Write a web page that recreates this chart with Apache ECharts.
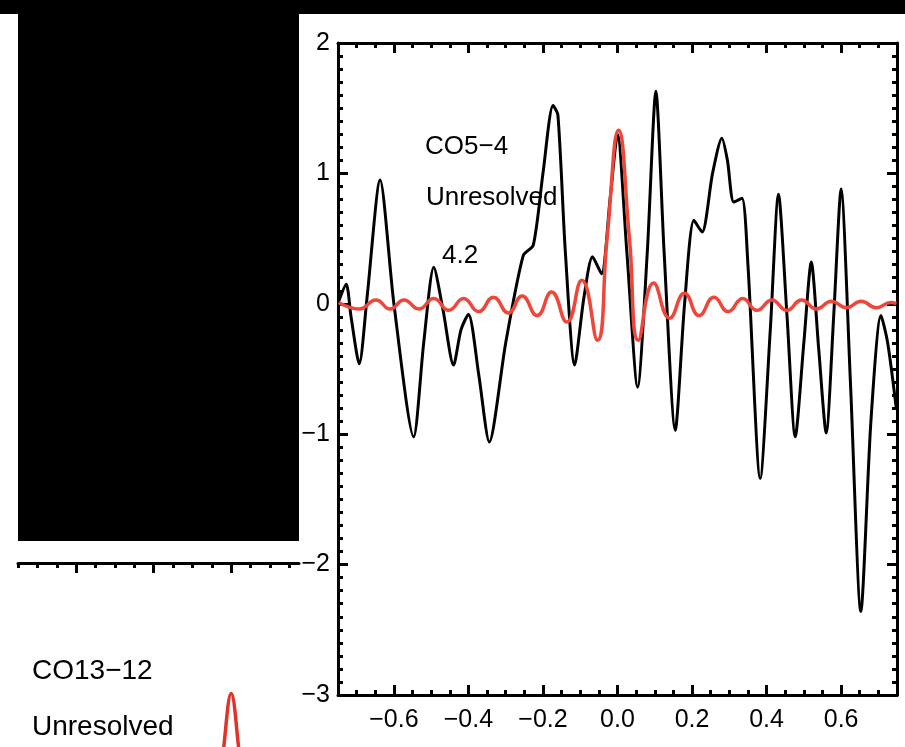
<!DOCTYPE html>
<html>
<head>
<meta charset="utf-8">
<script src="https://cdn.jsdelivr.net/npm/echarts@6/dist/echarts.min.js"></script>
<style>
html,body{margin:0;padding:0;background:#fff;}
#chart{width:905px;height:747px;}
</style>
</head>
<body>
<div id="chart"></div>
<script>
// ---- data ----
const xTickLabels = [-0.6, -0.4, -0.2, 0.0, 0.2, 0.4, 0.6];
const yTickLabels = [-3, -2, -1, 0, 1, 2];

// CO5-4 observed spectrum (black)
const blackX = [-0.748,-0.728,-0.715,-0.693,-0.672,-0.637,-0.600,-0.547,-0.520,-0.493,-0.468,-0.440,-0.420,-0.400,-0.372,-0.344,-0.300,-0.253,-0.226,-0.200,-0.173,-0.160,-0.140,-0.115,-0.090,-0.067,-0.043,-0.020,0.000,0.025,0.054,0.080,0.103,0.125,0.155,0.180,0.205,0.227,0.255,0.280,0.295,0.312,0.334,0.350,0.383,0.410,0.432,0.455,0.477,0.500,0.520,0.540,0.560,0.580,0.600,0.625,0.653,0.680,0.707,0.725,0.748];
const blackY = [0.02,0.15,-0.10,-0.46,0.05,0.95,0.00,-1.02,-0.30,0.28,-0.05,-0.47,-0.20,-0.08,-0.55,-1.06,-0.30,0.37,0.45,1.00,1.52,1.45,0.40,-0.47,0.05,0.36,0.23,0.80,1.30,0.40,-0.64,0.40,1.63,0.40,-0.97,0.00,0.64,0.55,1.00,1.27,1.10,0.78,0.81,0.30,-1.34,-0.20,0.84,-0.10,-1.02,-0.30,0.32,-0.35,-0.99,-0.10,0.88,-0.60,-2.36,-0.90,-0.09,-0.30,-0.80];

// CO5-4 unresolved model (red)
const redX = [-0.748,-0.693,-0.648,-0.610,-0.573,-0.533,-0.493,-0.453,-0.413,-0.373,-0.333,-0.293,-0.256,-0.216,-0.177,-0.136,-0.096,-0.054,-0.028,0.003,0.032,0.056,0.097,0.140,0.180,0.219,0.259,0.297,0.336,0.374,0.414,0.454,0.494,0.534,0.574,0.614,0.654,0.694,0.734,0.748];
const redY = [0.01,-0.04,0.03,-0.04,0.03,-0.04,0.04,-0.05,0.04,-0.06,0.05,-0.07,0.06,-0.09,0.09,-0.14,0.18,-0.28,0.50,1.33,0.50,-0.28,0.16,-0.11,0.08,-0.09,0.05,-0.06,0.04,-0.05,0.03,-0.05,0.03,-0.04,0.02,-0.03,0.02,-0.03,0.01,0.00];

// CO13-12 unresolved model (lower-left panel, only its top part is visible)
const red2X = [-0.045,-0.019,0.000,0.019,0.045];
const red2Y = [-0.20,0.59,1.00,0.59,-0.20];
const leftMajorTicks = [-0.4, -0.2, 0.0];

// ---- helpers ----
const FONT = '"Liberation Sans", Arial, Helvetica, sans-serif';
const pair = (xs, ys) => xs.map((x, i) => [x, ys[i]]);
const minus = s => String(s).replace('-', '\u2212');
const range = (a, b, s) => { const r = []; for (let v = a; v <= b + 1e-9; v += s) r.push(Math.round(v * 1000) / 1000); return r; };
const xMinorTicks = range(-0.75, 0.75, 0.05);
const leftMinorTicks = range(-0.55, 0.15, 0.05);

const AX = { color: '#000', width: 3 };
const hidden = { show: false };
const noLine = { show: false, onZero: false };
const line = { show: true, onZero: false, lineStyle: AX };

const chart = echarts.init(document.getElementById('chart'), null, { renderer: 'canvas' });
chart.setOption({
  backgroundColor: '#fff',
  animation: false,
  grid: [
    { left: 338, top: 43, width: 559, height: 652, containLabel: false },
    // lower-left panel: only its top strip (y from 2 down to ~0.59) is inside the picture
    { left: 18, top: 563, width: 281, bottom: 0, containLabel: false }
  ],
  xAxis: [
    { type: 'value', gridIndex: 0, position: 'bottom', min: -0.75, max: 0.75,
      axisLine: line,
      axisTick: { show: true, inside: true, length: 10, lineStyle: AX, customValues: xTickLabels },
      axisLabel: { show: true, customValues: xTickLabels, margin: 13, color: '#000', fontSize: 25, fontFamily: FONT,
        formatter: v => minus(v.toFixed(1)) },
      splitLine: hidden },
    { type: 'value', gridIndex: 0, position: 'bottom', min: -0.75, max: 0.75,
      axisLine: noLine, axisLabel: hidden, splitLine: hidden,
      axisTick: { show: true, inside: true, length: 5, lineStyle: AX, customValues: xMinorTicks } },
    { type: 'value', gridIndex: 0, position: 'top', min: -0.75, max: 0.75,
      axisLine: line, axisLabel: hidden, splitLine: hidden,
      axisTick: { show: true, inside: true, length: 10, lineStyle: AX, customValues: xTickLabels } },
    { type: 'value', gridIndex: 0, position: 'top', min: -0.75, max: 0.75,
      axisLine: noLine, axisLabel: hidden, splitLine: hidden,
      axisTick: { show: true, inside: true, length: 5, lineStyle: AX, customValues: xMinorTicks } },
    { type: 'value', gridIndex: 1, position: 'top', min: -0.55, max: 0.175,
      axisLine: line, axisLabel: hidden, splitLine: hidden,
      axisTick: { show: true, inside: true, length: 10, lineStyle: AX, customValues: leftMajorTicks } },
    { type: 'value', gridIndex: 1, position: 'top', min: -0.55, max: 0.175,
      axisLine: noLine, axisLabel: hidden, splitLine: hidden,
      axisTick: { show: true, inside: true, length: 5, lineStyle: AX, customValues: leftMinorTicks } }
  ],
  yAxis: [
    { type: 'value', gridIndex: 0, position: 'left', min: -3, max: 2, interval: 1,
      axisLine: line,
      axisTick: { show: true, inside: true, length: 10, lineStyle: AX },
      minorTick: { show: true, splitNumber: 10, length: 5, lineStyle: AX },
      axisLabel: { show: true, margin: 8, color: '#000', fontSize: 25, fontFamily: FONT, formatter: v => minus(v) },
      splitLine: hidden, minorSplitLine: hidden },
    { type: 'value', gridIndex: 0, position: 'right', min: -3, max: 2, interval: 1,
      axisLine: line,
      axisTick: { show: true, inside: true, length: 10, lineStyle: AX },
      minorTick: { show: true, splitNumber: 10, length: 5, lineStyle: AX },
      axisLabel: hidden, splitLine: hidden, minorSplitLine: hidden },
    { type: 'value', gridIndex: 1, min: 0.589, max: 2, show: false, splitLine: hidden }
  ],
  series: [
    { type: 'line', xAxisIndex: 0, yAxisIndex: 0, data: pair(blackX, blackY), showSymbol: false, smooth: 0.25,
      lineStyle: { color: '#000', width: 3 }, z: 3 },
    { type: 'line', xAxisIndex: 0, yAxisIndex: 0, data: pair(redX, redY), showSymbol: false, smooth: 0.5,
      lineStyle: { color: '#f0463a', width: 3.5 }, z: 4 },
    { type: 'line', xAxisIndex: 4, yAxisIndex: 2, data: pair(red2X, red2Y), showSymbol: false, smooth: 0.4,
      lineStyle: { color: '#e0332a', width: 3.5 }, z: 4 }
  ],
  graphic: [
    { type: 'rect', shape: { x: 0, y: 0, width: 905, height: 14 }, style: { fill: '#000' }, z: 100 },
    { type: 'rect', shape: { x: 18, y: 14, width: 281, height: 527 }, style: { fill: '#000' }, z: 100 },
    { type: 'text', x: 425, y: 147, style: { text: 'CO5\u22124', font: '26px ' + FONT, fill: '#000', verticalAlign: 'middle' }, z: 101 },
    { type: 'text', x: 426, y: 198, style: { text: 'Unresolved', font: '26px ' + FONT, fill: '#000', verticalAlign: 'middle' }, z: 101 },
    { type: 'text', x: 442, y: 256, style: { text: '4.2', font: '26px ' + FONT, fill: '#000', verticalAlign: 'middle' }, z: 101 },
    { type: 'text', x: 32, y: 671, style: { text: 'CO13\u221212', font: '28px ' + FONT, fill: '#000', verticalAlign: 'middle' }, z: 101 },
    { type: 'text', x: 32, y: 727, style: { text: 'Unresolved', font: '28px ' + FONT, fill: '#000', verticalAlign: 'middle' }, z: 101 }
  ]
});
</script>
</body>
</html>
